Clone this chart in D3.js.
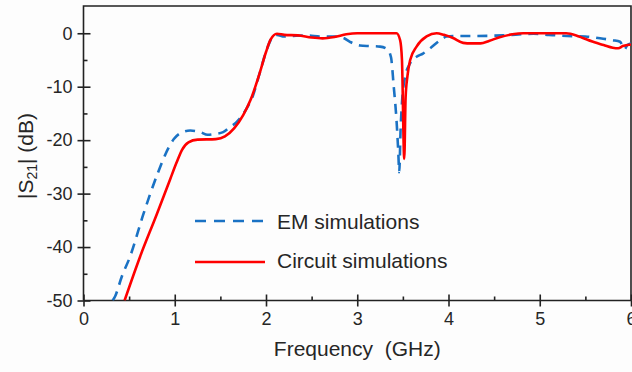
<!DOCTYPE html>
<html><head><meta charset="utf-8">
<script src="https://cdn.jsdelivr.net/npm/d3@7"></script>
<style>
html,body{margin:0;padding:0;background:#fdfdfd;}
svg{display:block;}
text{font-family:"Liberation Sans",Arial,sans-serif;fill:#262626;}
</style></head>
<body>
<script>
const xTicks = [0,1,2,3,4,5,6];
const xMinor = [0.5,1.5,2.5,3.5,4.5,5.5];
const yTicks = [-50,-40,-30,-20,-10,0];
const yMinor = [-45,-35,-25,-15,-5];

const emFreq = [0.32,0.347,0.42,0.51,0.657,0.82,0.93,0.99,1.06,1.17,1.28,1.36,1.42,1.53,1.6,1.68,1.79,1.85,1.93,2.0,2.06,2.12,2.2,2.3,2.45,2.6,2.75,2.85,2.92,3.03,3.15,3.25,3.33,3.37,3.40,3.43,3.45,3.46,3.475,3.49,3.52,3.58,3.65,3.72,3.80,3.91,3.98,4.05,4.3,4.6,4.93,5.1,5.3,5.5,5.66,5.8,5.88,5.93,5.96,6.0];
const emS21  = [-50,-49.2,-45.5,-41.8,-33.8,-25.9,-21.5,-19.8,-18.7,-18.2,-18.5,-19.0,-18.9,-18.5,-17.6,-16.6,-14.0,-12.0,-7.5,-3.5,-1.0,-0.3,-0.6,-0.5,-0.4,-0.6,-0.6,-0.9,-1.6,-2.3,-2.4,-2.5,-3.0,-4.5,-10,-16.2,-22.4,-26,-18,-13,-8.5,-5.6,-4.4,-3.8,-2.8,-1.3,-0.6,-0.5,-0.5,-0.4,-0.1,-0.3,-0.5,-0.6,-0.95,-1.3,-1.6,-3.0,-2.2,-1.9];

const cirFreq = [0.45,0.62,0.80,0.95,1.02,1.08,1.15,1.25,1.45,1.55,1.65,1.75,1.83,1.93,2.0,2.05,2.12,2.2,2.35,2.5,2.62,2.75,2.88,3.0,3.2,3.43,3.47,3.49,3.515,3.53,3.55,3.58,3.65,3.76,3.87,3.95,4.05,4.16,4.25,4.35,4.45,4.56,4.7,4.82,5.0,5.29,5.4,5.48,5.6,5.70,5.8,5.86,5.91,6.0];
const cirS21  = [-50,-41.8,-34.0,-27.3,-24.2,-21.8,-20.4,-19.9,-19.8,-19.3,-17.8,-15.3,-12.5,-7.5,-3.5,-1.2,-0.1,-0.3,-0.4,-0.8,-0.95,-0.7,-0.2,0,0,0,-1.3,-5,-23.5,-12,-8,-5,-2.5,-0.6,0,-0.3,-0.9,-1.8,-1.9,-1.9,-1.4,-0.75,-0.2,0,0,0,-0.4,-0.95,-1.7,-2.2,-2.7,-2.8,-2.4,-2.1];

const W = 632, H = 372;
const svg = d3.select("body").append("svg").attr("width", W).attr("height", H);
const L = 83.5, R = 631, T = 6, B = 300.5;
const x = d3.scaleLinear().domain([0,6]).range([L,R]);
const y = d3.scaleLinear().domain([-50,5.1]).range([B,T]);
const fmt = d => String(d);

const axisCol = "#222";
svg.append("path").attr("d", `M${L},${B}V${T}H${R}V${B}H${L}`)
  .attr("fill","none").attr("stroke",axisCol).attr("stroke-width",1.6);

const gy = svg.append("g").attr("transform",`translate(${L},0)`)
  .call(d3.axisLeft(y).tickValues(yTicks).tickSize(6).tickPadding(5).tickFormat(fmt));
gy.select(".domain").remove();
gy.selectAll("line").attr("stroke",axisCol).attr("stroke-width",1.6);
gy.selectAll("text").style("font-size","18px").attr("fill","#262626");
svg.append("g").attr("transform",`translate(${L},0)`)
  .call(d3.axisRight(y).tickValues(yTicks).tickSize(7).tickFormat(""))
  .call(g=>{g.select(".domain").remove(); g.selectAll("line").attr("stroke",axisCol).attr("stroke-width",1.6);});
svg.append("g").attr("transform",`translate(${L},0)`)
  .call(d3.axisRight(y).tickValues(yMinor).tickSize(4).tickFormat(""))
  .call(g=>{g.select(".domain").remove(); g.selectAll("line").attr("stroke",axisCol).attr("stroke-width",1.6);});

const gx = svg.append("g").attr("transform",`translate(0,${B})`)
  .call(d3.axisBottom(x).tickValues(xTicks).tickSize(6).tickPadding(6).tickFormat(fmt));
gx.select(".domain").remove();
gx.selectAll("line").attr("stroke",axisCol).attr("stroke-width",1.6);
gx.selectAll("text").style("font-size","18px").attr("fill","#262626");
svg.append("g").attr("transform",`translate(0,${B})`)
  .call(d3.axisTop(x).tickValues(xTicks).tickSize(6).tickFormat(""))
  .call(g=>{g.select(".domain").remove(); g.selectAll("line").attr("stroke",axisCol).attr("stroke-width",1.6);});
svg.append("g").attr("transform",`translate(0,${B})`)
  .call(d3.axisTop(x).tickValues(xMinor).tickSize(4).tickFormat(""))
  .call(g=>{g.select(".domain").remove(); g.selectAll("line").attr("stroke",axisCol).attr("stroke-width",1.6);});

svg.append("clipPath").attr("id","clip").append("rect")
  .attr("x",L).attr("y",T).attr("width",R-L).attr("height",B-T);

const line = d3.line().x(d=>x(d[0])).y(d=>y(d[1])).curve(d3.curveMonotoneX);
const emData = emFreq.map((f,i)=>[f,emS21[i]]);
const cirData = cirFreq.map((f,i)=>[f,cirS21[i]]);

const blue = "#1a72c4", red = "#ff0000";
svg.append("path").datum(emData).attr("clip-path","url(#clip)")
  .attr("d",line).attr("fill","none").attr("stroke",blue).attr("stroke-width",2.6)
  .attr("stroke-dasharray","10,7");
svg.append("path").datum(cirData).attr("clip-path","url(#clip)")
  .attr("d",line).attr("fill","none").attr("stroke",red).attr("stroke-width",2.6);

const leg = svg.append("g");
leg.append("line").attr("x1",195).attr("x2",265).attr("y1",221).attr("y2",221)
  .attr("stroke",blue).attr("stroke-width",2.6).attr("stroke-dasharray","11,8");
leg.append("text").attr("x",277).attr("y",229).style("font-size","21px").text("EM simulations");
leg.append("line").attr("x1",195).attr("x2",265).attr("y1",262).attr("y2",262)
  .attr("stroke",red).attr("stroke-width",2.6);
leg.append("text").attr("x",277).attr("y",268).style("font-size","21px").text("Circuit simulations");

svg.append("text").attr("x",(L+R)/2).attr("y",356).attr("text-anchor","middle")
  .style("font-size","21px").text("Frequency\u00a0 (GHz)");
const yt = svg.append("text").attr("transform",`translate(33,156) rotate(-90)`)
  .attr("text-anchor","middle").style("font-size","21px");
yt.append("tspan").text("|S");
yt.append("tspan").attr("dy",4).style("font-size","14px").text("21");
yt.append("tspan").attr("dy",-4).text("| (dB)");
</script>
</body></html>
